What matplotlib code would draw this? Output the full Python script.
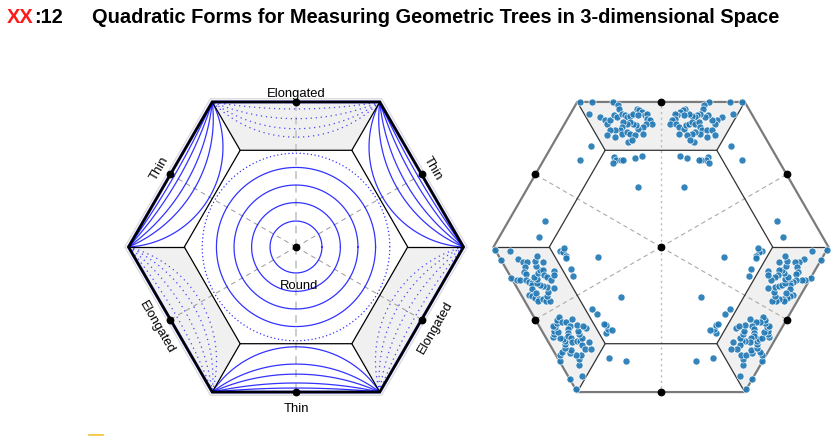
import numpy as np
import matplotlib
matplotlib.use("Agg")
import matplotlib.pyplot as plt
from matplotlib import font_manager as fm
from matplotlib.patches import Polygon

# ------------------ data ------------------
title_tag = "XX"
title_num = ":12"
title_main = "Quadratic Forms for Measuring Geometric Trees in 3-dimensional Space"

edge_angles_deg = [30, 90, 150, 210, 270, 330]
edge_labels = ["Thin", "Elongated", "Thin", "Elongated", "Thin", "Elongated"]
label_offsets = [0.075, 0.05, 0.075, 0.095, 0.1, 0.095]
label_rotations = [-60, 0, 60, -60, 0, 60]
center_label = "Round"
center_label_pos = (0.02, -0.235)

inner_ratio = 2.0 / 3.0
shaded_edges = [1, 3, 5]          # the "Elongated" sides

solid_circle_r = [0.155, 0.265, 0.37, 0.475]
dotted_circle_r = [0.56]
thin_sagitta = [0.27, 0.167, 0.107, 0.054, 0.024]
elong_sagitta = [0.21, 0.16, 0.10, 0.042]

# measured points (one symmetry sector); the figure shows every permutation
pts_u = [-0.482, -0.413, -0.288, -0.258, -0.250, -0.430, -0.367, -0.333, -0.320, -0.304,
         -0.280, -0.264, -0.234, -0.214, -0.201, -0.185, -0.168, -0.145, -0.131, -0.115,
         -0.135, -0.095, -0.085, -0.082, -0.065, -0.055, -0.089, -0.105, -0.135, -0.149,
         -0.165, -0.185, -0.204, -0.224, -0.234, -0.244, -0.274, -0.304, -0.320, -0.274,
         -0.234, -0.204, -0.185, -0.155, -0.105, -0.195, -0.174,
         -0.417, -0.482, -0.280, -0.268, -0.284, -0.238, -0.228, -0.155, -0.115, -0.139]
pts_v = [0.865, 0.865, 0.865, 0.845, 0.826, 0.796, 0.776, 0.756, 0.736, 0.760,
         0.786, 0.776, 0.796, 0.786, 0.776, 0.780, 0.792, 0.826, 0.815, 0.805,
         0.786, 0.786, 0.796, 0.766, 0.756, 0.736, 0.736, 0.716, 0.707, 0.726,
         0.736, 0.746, 0.736, 0.746, 0.716, 0.696, 0.701, 0.696, 0.667, 0.657,
         0.677, 0.686, 0.677, 0.667, 0.677, 0.627, 0.637,
         0.601, 0.522, 0.538, 0.518, 0.502, 0.518, 0.522, 0.532, 0.542, 0.357]

# ------------------ helpers ------------------
def pick_font(cands):
    for c in cands:
        try:
            fm.findfont(fm.FontProperties(family=c), fallback_to_default=False)
            return c
        except Exception:
            pass
    return "DejaVu Sans"

FONT = pick_font(["Liberation Sans", "Arial", "DejaVu Sans"])
TFONT = pick_font(["Liberation Sans Narrow", "Liberation Sans", "DejaVu Sans"])

W, H = 837, 436
S = 167.5
fig = plt.figure(figsize=(W / 100, H / 100), dpi=100)

verts = np.array([[np.cos(np.radians(60 * k)), np.sin(np.radians(60 * k))] for k in range(6)])


def make_ax(cx, cy):
    hw, hh = 1.1, 1.12
    ax = fig.add_axes([(cx - hw * S) / W, (H - cy - hh * S) / H, 2 * hw * S / W, 2 * hh * S / H])
    ax.set_xlim(-hw, hw)
    ax.set_ylim(-hh, hh)
    ax.set_aspect("equal")
    ax.axis("off")
    return ax


def arc(p1, p2, s, n=120):
    m = (p1 + p2) / 2
    t = p2 - p1
    h = np.linalg.norm(t) / 2
    t = t / (2 * h)
    nn = -m / np.linalg.norm(m)
    rho = (h * h + s * s) / (2 * s)
    c = m + s * nn - rho * nn
    phi0 = np.arctan2(h, rho - s)
    phi = np.linspace(-phi0, phi0, n)
    return c[None, :] + rho * (np.cos(phi)[:, None] * nn[None, :] + np.sin(phi)[:, None] * t[None, :])


def frame(ax, outer_color, outer_lw, inner_color, vertical_style, diag_style):
    for k in shaded_edges:
        a, b = verts[k], verts[(k + 1) % 6]
        ax.add_patch(Polygon([a, b, inner_ratio * b, inner_ratio * a], closed=True,
                             facecolor="#f0f0f0", edgecolor="none", zorder=1))
    for k, ang in enumerate(edge_angles_deg):
        d = np.sqrt(3) / 2 * np.array([np.cos(np.radians(ang)), np.sin(np.radians(ang))])
        st = vertical_style if ang in (90, 270) else diag_style
        ax.plot([0, d[0]], [0, d[1]], zorder=2, **st)
    iv = inner_ratio * verts
    ax.add_patch(Polygon(iv, closed=True, fill=False, edgecolor=inner_color, lw=0.9, zorder=4))
    for k in range(6):
        ax.plot([verts[k, 0], iv[k, 0]], [verts[k, 1], iv[k, 1]], color=inner_color, lw=0.9, zorder=4)
    ax.add_patch(Polygon(verts, closed=True, fill=False, edgecolor=outer_color, lw=outer_lw,
                         joinstyle="miter", zorder=6))
    mids = np.array([np.sqrt(3) / 2 * np.array([np.cos(np.radians(a)), np.sin(np.radians(a))])
                     for a in edge_angles_deg])
    ax.plot(mids[:, 0], mids[:, 1], "o", color="black", ms=4.6, zorder=8)
    ax.plot([0], [0], "o", color="black", ms=4.6, zorder=8)


# ------------------ left panel ------------------
axL = make_ax(296, 247)
frame(axL, "black", 1.9, "black",
      dict(color="#cccccc", lw=1.4, dashes=(4, 3)),
      dict(color="#999999", lw=0.7, dashes=(5, 4)))
axL.add_patch(Polygon(verts * 1.022, closed=True, fill=False, edgecolor="#dddddd", lw=1.0, zorder=0))
axL.add_patch(Polygon(verts, closed=True, fill=False, edgecolor="#0000ff", lw=2.3, alpha=0.5, zorder=5))

th = np.linspace(0, 2 * np.pi, 400)
for r in solid_circle_r:
    axL.plot(r * np.cos(th), r * np.sin(th), color="#0000ff", lw=0.9, alpha=0.8, zorder=3)
for r in dotted_circle_r:
    axL.plot(r * np.cos(th), r * np.sin(th), color="#0000ff", lw=0.9, alpha=0.8, ls=(0, (1, 2)), zorder=3)

for k in range(6):
    a, b = verts[k], verts[(k + 1) % 6]
    if k in shaded_edges:
        for s in elong_sagitta:
            p = arc(a, b, s)
            axL.plot(p[:, 0], p[:, 1], color="#0000ff", lw=0.9, alpha=0.7, ls=(0, (1, 3)), zorder=3)
    else:
        for s in thin_sagitta:
            p = arc(a, b, s)
            axL.plot(p[:, 0], p[:, 1], color="#0000ff", lw=0.9, alpha=0.8, zorder=3)

for k, ang in enumerate(edge_angles_deg):
    d = np.sqrt(3) / 2 + label_offsets[k]
    x, y = d * np.cos(np.radians(ang)), d * np.sin(np.radians(ang))
    axL.text(x, y, edge_labels[k], rotation=label_rotations[k], ha="center", va="center",
             fontsize=9.4, family=FONT, zorder=9)
axL.text(center_label_pos[0], center_label_pos[1], center_label, ha="center", va="center",
         fontsize=9.4, family=FONT, zorder=9)

# ------------------ right panel ------------------
axR = make_ax(661, 247)
frame(axR, "#7a7a7a", 1.6, "#333333",
      dict(color="#bbbbbb", lw=1.0, dashes=(1.5, 2.5)),
      dict(color="#aaaaaa", lw=0.8, dashes=(4, 3)))

bu, bv = np.array(pts_u), np.array(pts_v)
all_u, all_v = [], []
for mirror in (1, -1):
    for k in range(3):
        a = np.radians(120 * k)
        u = mirror * bu
        all_u.append(u * np.cos(a) - bv * np.sin(a))
        all_v.append(u * np.sin(a) + bv * np.cos(a))
all_u = np.concatenate(all_u)
all_v = np.concatenate(all_v)
axR.scatter(all_u, all_v, s=26, color="#1f77b4", edgecolor="white", linewidth=0.5, alpha=0.9, zorder=7)

# ------------------ title ------------------
fig.canvas.draw()
r = fig.canvas.get_renderer()
ybase = 1 - 23 / H
fs = 14
t1 = fig.text(7 / W, ybase, title_tag, color="#ff1a1a", fontsize=fs, fontweight="bold", family=TFONT, va="baseline")
t3 = fig.text(92 / W, ybase, title_main, color="black", fontsize=fs, fontweight="bold", family=TFONT, va="baseline")
w3 = t3.get_window_extent(r).width
fs2 = fs * 690 / w3
t3.set_fontsize(fs2)
t1.set_fontsize(fs2)
bb = t1.get_window_extent(r)
t2 = fig.text(bb.x1 / W, ybase, title_num, color="black", fontsize=fs2, fontweight="bold", family=TFONT, va="baseline")

fig.add_artist(plt.Line2D([89 / W, 103 / W], [1.5 / H, 1.5 / H], color="#f2c12e", lw=1.2))

fig.savefig("out.png", dpi=100)
